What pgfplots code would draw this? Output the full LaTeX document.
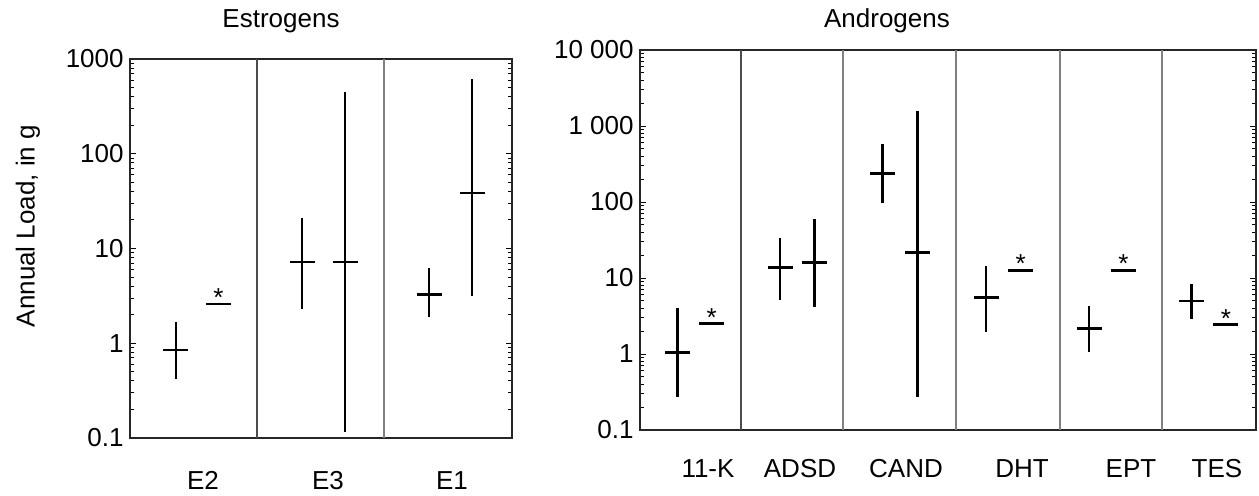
\documentclass[border=0pt]{standalone}
\usepackage{fontspec}
\setmainfont{Liberation Sans}
\usepackage{pgfplots}
\usepackage{pgfplotstable}
\pgfplotsset{compat=1.18}

\pgfplotstableread{
x med lo hi
46 0.85 0.42 1.67
172 7.2 2.3 21
215 7.2 0.116 450
299 3.3 1.9 6.2
342 38.5 3.15 615
}\estro
\pgfplotstableread{
x val
88.5 2.6
}\estrostar
\pgfplotstableread{
x med lo hi
37.3 1.05 0.274 4.06
140 13.8 5.2 33.3
174.3 15.9 4.19 59.7
242.7 239 98 574
277.3 21.5 0.274 1575
346 5.6 1.96 14.4
449 2.15 1.07 4.32
551.7 4.98 2.91 8.26
}\andro
\pgfplotstableread{
x val
71.7 2.5
380.7 12.7
483.3 12.7
585.8 2.46
}\androstar

\newcommand{\fs}{\fontsize{13}{15.5}\selectfont}

\begin{document}
\begin{tikzpicture}
\useasboundingbox (0,0) rectangle (629.5pt,247.5pt);

\begin{axis}[
  scale only axis, anchor=south west,
  at={(65pt,28.5pt)}, width=191pt, height=189.5pt,
  ymode=log,
  axis line style={black!85, line width=1pt},
  tick style={black, line width=0.5pt},
  major tick length=3pt, minor tick length=2pt,
  tick align=inside, ytick pos=both,
  tick label style={font=\fs},
  yticklabel style={inner sep=1pt, xshift=-2pt},
  xtick style={draw=none},
  clip=false,
  xmin=0, xmax=382, ymin=0.1, ymax=1000,
  ytick={0.1,1,10,100,1000},
  yticklabels={0.1,1,10,100,1000},
  xtick={73,198,322}, xticklabels={E2,E3,E1},
  xticklabel style={anchor=base, yshift=-25.5pt},
]
\addplot[no marks, line width=0.6pt, black!70] coordinates {(127,0.1) (127,1000)};
\addplot[no marks, line width=0.6pt, black!50] coordinates {(254,0.1) (254,1000)};
\addplot[only marks, mark=-, mark size=6.25pt, mark options={line width=1.4pt, black}, black,
  error bars/.cd, y dir=both, y explicit, error mark=none,
  error bar style={line width=1.4pt, black}]
  table[x=x, y=med,
  y error plus expr=\thisrow{hi}-\thisrow{med},
  y error minus expr=\thisrow{med}-\thisrow{lo}] {\estro};
\addplot[only marks, mark=-, mark size=6.25pt, mark options={line width=1.4pt, black}, black,
  nodes near coords={*},
  every node near coord/.append style={anchor=base, inner sep=0pt, yshift=-1.4pt, font=\fs, black}]
  table[x=x, y=val] {\estrostar};
\end{axis}

\begin{axis}[
  scale only axis, anchor=south west,
  at={(320pt,32.5pt)}, width=308pt, height=190pt,
  ymode=log,
  axis line style={black!85, line width=1pt},
  tick style={black, line width=0.5pt},
  major tick length=3pt, minor tick length=2pt,
  tick align=inside, ytick pos=both,
  tick label style={font=\fs},
  yticklabel style={inner sep=1pt, xshift=-2pt},
  xtick style={draw=none},
  clip=false,
  xmin=0, xmax=616, ymin=0.1, ymax=10000,
  ytick={0.1,1,10,100,1000,10000},
  yticklabels={0.1,1,10,100,1\ 000,10\ 000},
  xtick={68,160,266,382,491,577},
  xticklabels={11-K,ADSD,CAND,DHT,EPT,TES},
  xticklabel style={anchor=base, yshift=-23.5pt},
]
\addplot[no marks, line width=0.6pt, black!70] coordinates {(101,0.1) (101,10000)};
\addplot[no marks, line width=0.6pt, black!50] coordinates {(203,0.1) (203,10000)};
\addplot[no marks, line width=0.6pt, black!50] coordinates {(316,0.1) (316,10000)};
\addplot[no marks, line width=0.6pt, black!50] coordinates {(420,0.1) (420,10000)};
\addplot[no marks, line width=0.6pt, black!50] coordinates {(522,0.1) (522,10000)};
\addplot[only marks, mark=-, mark size=6.25pt, mark options={line width=1.4pt, black}, black,
  error bars/.cd, y dir=both, y explicit, error mark=none,
  error bar style={line width=1.4pt, black}]
  table[x=x, y=med,
  y error plus expr=\thisrow{hi}-\thisrow{med},
  y error minus expr=\thisrow{med}-\thisrow{lo}] {\andro};
\addplot[only marks, mark=-, mark size=6.25pt, mark options={line width=1.4pt, black}, black,
  nodes near coords={*},
  every node near coord/.append style={anchor=base, inner sep=0pt, yshift=-1.4pt, font=\fs, black}]
  table[x=x, y=val] {\androstar};
\end{axis}

\node[font=\fs] at (140.5pt,237pt) {Estrogens};
\node[font=\fs] at (443.5pt,237pt) {Androgens};
\node[font=\fs, rotate=90] at (14pt,134.5pt) {Annual Load, in g};
\end{tikzpicture}
\end{document}
